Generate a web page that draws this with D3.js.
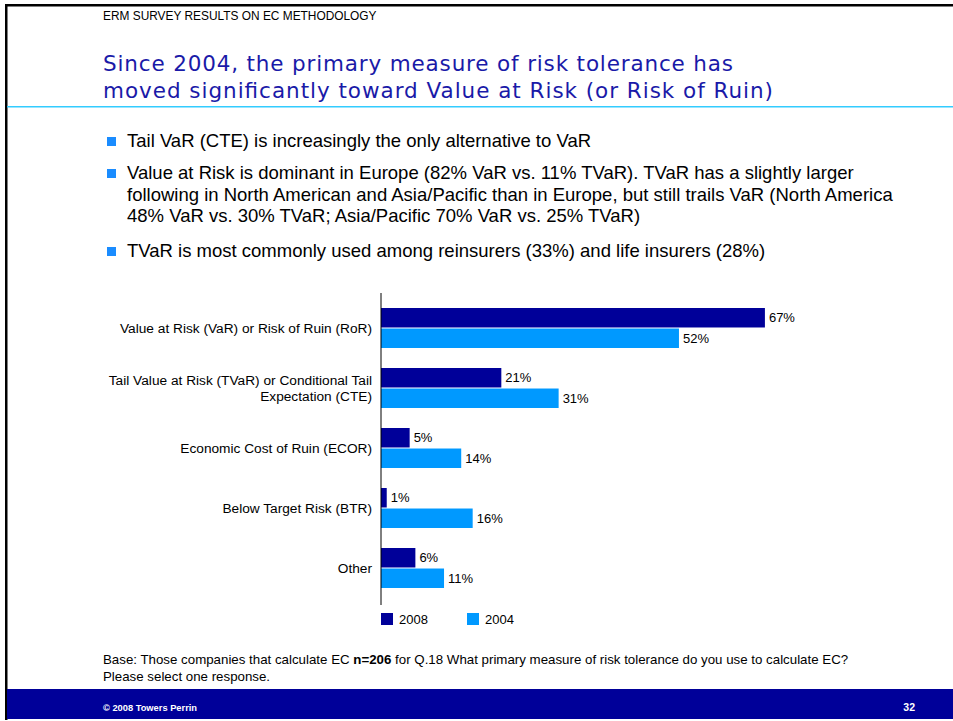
<!DOCTYPE html>
<html>
<head>
<meta charset="utf-8">
<script src="https://cdn.jsdelivr.net/npm/d3@7"></script>
<style>
  html, body { margin: 0; padding: 0; background: #fff; }
  svg { display: block; }
</style>
</head>
<body>
<script>
// Survey answers: primary measure of risk tolerance used to calculate EC
const categories = [
  ["Value at Risk (VaR) or Risk of Ruin (RoR)"],
  ["Tail Value at Risk (TVaR) or Conditional Tail", "Expectation (CTE)"],
  ["Economic Cost of Ruin (ECOR)"],
  ["Below Target Risk (BTR)"],
  ["Other"]
];
const seriesNames = ["2008", "2004"];
const values2008 = [67, 21, 5, 1, 6];
const values2004 = [52, 31, 14, 16, 11];

const bullets = [
  ["Tail VaR (CTE) is increasingly the only alternative to VaR"],
  ["Value at Risk is dominant in Europe (82% VaR vs. 11% TVaR). TVaR has a slightly larger",
   "following in North American and Asia/Pacific than in Europe, but still trails VaR (North America",
   "48% VaR vs. 30% TVaR; Asia/Pacific 70% VaR vs. 25% TVaR)"],
  ["TVaR is most commonly used among reinsurers (33%) and life insurers (28%)"]
];

const W = 953, H = 721;
const DARK = "#000099", LIGHT = "#0099ff";
const SANS = "'Liberation Sans', Arial, sans-serif";

const svg = d3.select("body").append("svg").attr("width", W).attr("height", H)
  .style("font-family", SANS);

// Slide frame
svg.append("rect").attr("x", 0).attr("y", 0).attr("width", W).attr("height", H).attr("fill", "#fff");
svg.append("rect").attr("x", 5).attr("y", 4).attr("width", W - 5).attr("height", 2.5).attr("fill", "#000");
svg.append("rect").attr("x", 5).attr("y", 4).attr("width", 2.5).attr("height", 716).attr("fill", "#000");

// Header and title
svg.append("text").attr("x", 103).attr("y", 20).attr("font-size", 11.9).attr("fill", "#000")
  .text("ERM SURVEY RESULTS ON EC METHODOLOGY");
const titleLines = [
  { t: "Since 2004, the primary measure of risk tolerance has", w: 630 },
  { t: "moved significantly toward Value at Risk (or Risk of Ruin)", w: 670 }
];
svg.append("g").selectAll("text").data(titleLines).join("text")
  .attr("x", 103).attr("y", (d, i) => 71 + i * 27)
  .style("font-family", "'DejaVu Sans', Verdana, sans-serif")
  .attr("font-size", 21.5).attr("fill", "#1a1aa8")
  .attr("textLength", d => d.w).attr("lengthAdjust", "spacing")
  .text(d => d.t);
svg.append("rect").attr("x", 7).attr("y", 106).attr("width", W - 7).attr("height", 1.5).attr("fill", "#33ccff");

// Bullet points
const bulletTop = [147, 179, 257];
bullets.forEach((lines, bi) => {
  svg.append("rect").attr("x", 107).attr("y", bulletTop[bi] - 10).attr("width", 9).attr("height", 9)
    .attr("fill", "#1a8cff");
  lines.forEach((ln, li) => {
    svg.append("text").attr("x", 127).attr("y", bulletTop[bi] + li * 21.5)
      .attr("font-size", 18.5).attr("fill", "#000").text(ln);
  });
});

// Chart
const x0 = 381;
const x = d3.scaleLinear().domain([0, 100]).range([x0, x0 + 573]);
const y = d3.scaleBand().domain(d3.range(categories.length)).range([298, 598])
  .paddingInner(1 / 3).paddingOuter(1 / 6);
const ys = d3.scaleBand().domain(seriesNames).range([0, y.bandwidth()]).paddingInner(0.05);

const rows = categories.map((c, i) => ({ i, label: c, vals: [values2008[i], values2004[i]] }));
const chart = svg.append("g");

const grp = chart.selectAll("g.row").data(rows).join("g").attr("class", "row")
  .attr("transform", d => `translate(0,${y(d.i)})`);

grp.selectAll("rect").data(d => d.vals.map((v, k) => ({ v, s: seriesNames[k] }))).join("rect")
  .attr("x", x(0)).attr("y", d => ys(d.s))
  .attr("width", d => x(d.v) - x(0)).attr("height", ys.bandwidth())
  .attr("fill", d => d.s === "2008" ? DARK : LIGHT);

grp.selectAll("text.val").data(d => d.vals.map((v, k) => ({ v, s: seriesNames[k] }))).join("text")
  .attr("class", "val")
  .attr("x", d => x(d.v) + 4).attr("y", d => ys(d.s) + ys.bandwidth() / 2 + 4.5)
  .attr("font-size", 13).attr("fill", "#000").text(d => d.v + "%");

grp.each(function (d) {
  const g = d3.select(this);
  const n = d.label.length;
  d.label.forEach((ln, li) => {
    g.append("text").attr("x", 372).attr("text-anchor", "end")
      .attr("y", y.bandwidth() / 2 + 5 + (li - (n - 1) / 2) * 15.5)
      .attr("font-size", 13.7).attr("fill", "#000").text(ln);
  });
});

// Category axis line
chart.append("line").attr("x1", x0).attr("x2", x0).attr("y1", 293).attr("y2", 605)
  .attr("stroke", "#000").attr("stroke-width", 1);

// Legend
const legX = [381, 467];
const leg = svg.append("g").selectAll("g").data(seriesNames).join("g")
  .attr("transform", (d, i) => `translate(${legX[i]},613)`);
leg.append("rect").attr("width", 12).attr("height", 12).attr("fill", (d, i) => i === 0 ? DARK : LIGHT);
leg.append("text").attr("x", 18).attr("y", 11).attr("font-size", 13).attr("fill", "#000").text(d => d);

// Footnote
const foot = svg.append("text").attr("x", 103).attr("y", 664).attr("font-size", 13.3).attr("fill", "#000");
foot.append("tspan").text("Base: Those companies that calculate EC ");
foot.append("tspan").attr("font-weight", "bold").text("n=206");
foot.append("tspan").text(" for Q.18 What primary measure of risk tolerance do you use to calculate EC?");
svg.append("text").attr("x", 103).attr("y", 681).attr("font-size", 13.3).attr("fill", "#000")
  .text("Please select one response.");

// Footer band
svg.append("rect").attr("x", 7).attr("y", 689).attr("width", W - 7).attr("height", 30).attr("fill", DARK);
svg.append("text").attr("x", 103).attr("y", 711).attr("font-size", 9.3).attr("font-weight", "bold")
  .attr("fill", "#fff").text("© 2008 Towers Perrin");
svg.append("text").attr("x", 915).attr("y", 711).attr("text-anchor", "end").attr("font-size", 10.5)
  .attr("font-weight", "bold").attr("fill", "#fff").text("32");
</script>
</body>
</html>
